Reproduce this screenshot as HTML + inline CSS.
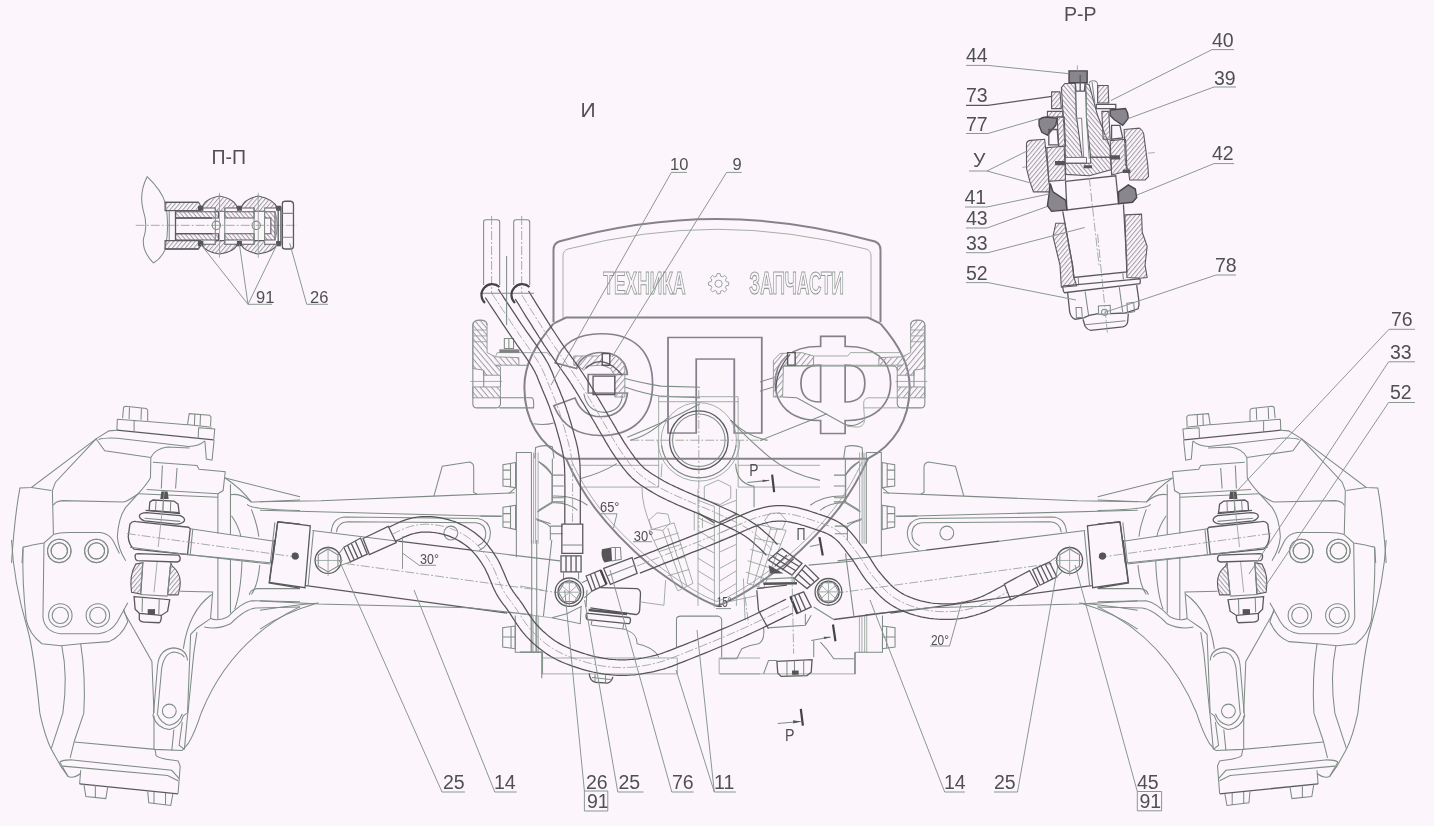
<!DOCTYPE html>
<html lang="ru"><head><meta charset="utf-8"><title>Схема</title>
<style>
html,body{margin:0;padding:0;background:#fcf6fc;}
body{width:1434px;height:826px;overflow:hidden;}
svg{display:block;will-change:transform;}
svg text{font-family:"Liberation Sans",sans-serif;fill:#505050;}
path,circle,ellipse,line,rect,polyline,text{vector-effect:non-scaling-stroke;}
.l{fill:none;stroke:#7e8c84;stroke-width:1.05;}
.t{fill:none;stroke:#94a098;stroke-width:0.85;}
.d{fill:none;stroke:#5a5a5e;stroke-width:1.3;}
.h{fill:none;stroke:#555;stroke-width:1.25;}
.w{fill:none;stroke:#86828c;stroke-width:2;}
.c{fill:none;stroke:#94a098;stroke-width:0.85;stroke-dasharray:9 2 2 2;}
.k{fill:#555;stroke:none;}
.g{fill:#8a868e;stroke:#4a464e;stroke-width:1.4;}
.ld{fill:none;stroke:#84928a;stroke-width:0.95;}
.hf{stroke:#5e5a62;stroke-width:1.1;}
svg .wo1 text{fill:none;stroke:#8f9a92;stroke-width:0.9;}
svg text.wa{fill:none;stroke:#85808c;stroke-linejoin:miter;}
svg text.wb{fill:#fcf6fc;stroke:#fcf6fc;stroke-linejoin:miter;}
.hl{stroke:#8a968e;stroke-width:0.9;}

</style></head><body>
<svg width="1434" height="826" viewBox="0 0 1434 826" font-size="19.5">
<defs>
<pattern id="hz5975" width="4.3" height="4.3" patternUnits="userSpaceOnUse" patternTransform="scale(5.975) rotate(-50)"><line x1="0" y1="0.5" x2="4.3" y2="0.5" stroke="#a09ca6" stroke-width="1.05"/></pattern>
<pattern id="hx4773" width="3.3" height="3.3" patternUnits="userSpaceOnUse" patternTransform="scale(4.773) rotate(-50)"><line x1="0" y1="0.5" x2="3.3" y2="0.5" stroke="#a09ca6" stroke-width="1.05"/></pattern>
<pattern id="hy4773" width="3.3" height="3.3" patternUnits="userSpaceOnUse" patternTransform="scale(4.773) rotate(50)"><line x1="0" y1="0.5" x2="3.3" y2="0.5" stroke="#a09ca6" stroke-width="1.05"/></pattern>
<pattern id="hy7170" width="3.3" height="3.3" patternUnits="userSpaceOnUse" patternTransform="scale(7.17) rotate(50)"><line x1="0" y1="0.5" x2="3.3" y2="0.5" stroke="#a09ca6" stroke-width="1.05"/></pattern>
<pattern id="hx7170" width="3.3" height="3.3" patternUnits="userSpaceOnUse" patternTransform="scale(7.17) rotate(-50)"><line x1="0" y1="0.5" x2="3.3" y2="0.5" stroke="#a09ca6" stroke-width="1.05"/></pattern>
</defs>
<rect width="1434" height="826" fill="#fcf6fc"/>
<g transform="translate(0,0) scale(1.00000)">
<path class="w" d="M553.5,322 V250 Q553.5,243.5 559,241.5 Q640,219 717,219 Q794,219 875,241.5 Q880.5,243.5 880.5,250 V322"/>
<path d="M563,318 V256 Q563,250.5 568,249 Q645,229.3 717,229.3 Q789,229.3 866,249 Q871,250.5 871,256 V318" fill="none" stroke="#8f9a92" stroke-width="0.8"/>
<path class="w" d="M553.5,323.6 L566,317.5 H868 L880.5,323.6"/>
<path class="w" d="M553.5,323.6 C535,345 524,365 524.4,388 C524.4,420 540,445 566,458.7 H868 C894,445 909.6,420 909.6,388 C910,365 899,345 880.5,323.6"/>
<path class="w" d="M566,458.7 C580,490 600,522 649.5,564.8 C680,588 700,600 717,606 C734,600 754,588 784.5,564.8 C834,522 854,490 868,458.7"/>
<path d="M572,462 C586,492 605,522 652,561 C682,584 702,596 717,601.5 C732,596 752,584 782,561 C829,522 848,492 862,462" fill="none" stroke="#8f9a92" stroke-width="0.8"/>
<g fill="none" stroke="#8f9a92" stroke-width="0.9"><circle cx="718.6" cy="283.7" r="3.6"/><path d="M717.1,273.6 h3 l0.6,2.6 l1.7,0.7 l2.3,-1.4 l2.1,2.1 l-1.4,2.3 l0.7,1.7 l2.6,0.6 v3 l-2.6,0.6 l-0.7,1.7 l1.4,2.3 l-2.1,2.1 l-2.3,-1.4 l-1.7,0.7 l-0.6,2.6 h-3 l-0.6,-2.6 l-1.7,-0.7 l-2.3,1.4 l-2.1,-2.1 l1.4,-2.3 l-0.7,-1.7 l-2.6,-0.6 v-3 l2.6,-0.6 l0.7,-1.7 l-1.4,-2.3 l2.1,-2.1 l2.3,1.4 l1.7,-0.7 z"/></g>
<g font-size="132" font-weight="bold" class="wo1">
<text transform="translate(603.3,294) scale(0.132,0.2418)">ТЕХНИКА</text>
<text transform="translate(749.3,294) scale(0.131,0.2418)">ЗАПЧАСТИ</text>
</g>
<g font-size="132" font-weight="bold">
<text class="wa" style="stroke-width:4.7" transform="translate(552.0,433.0) scale(1.119,1.048)">Э</text>
<text class="wa" style="stroke-width:8.1" transform="translate(661.5,430.0) scale(1.126,0.989)">П</text>
<text class="wa" style="stroke-width:6.9" transform="translate(773.1,429.9) scale(1.063,0.996)">Ф</text>
<text class="wb" style="stroke-width:1.3" transform="translate(552.0,433.0) scale(1.119,1.048)">Э</text>
<text class="wb" style="stroke-width:4.7" transform="translate(661.5,430.0) scale(1.126,0.989)">П</text>
<text class="wb" style="stroke-width:3.5" transform="translate(773.1,429.9) scale(1.063,0.996)">Ф</text>
</g>
</g>
<g transform="translate(630,470) scale(0.12594)">
<path class="t" d="M700,80 L800,130 L800,225 L715,275 L590,235 L590,130 Z"/>
<path class="t" d="M540,150 V1080 M670,290 V1090 M710,290 V1090 M845,150 V1080 M510,330 V480 M575,380 V460"/>
<path class="t" d="M540,240 L670,290 M540,380 L670,440 M540,480 L670,560 M540,590 L670,660 M540,700 L670,780 M540,800 L670,880 M540,900 L670,980"/>
<path class="t" d="M845,240 L715,290 M845,440 L715,500 M845,510 L715,560 M845,590 L715,650 M845,710 L715,780 M845,800 L715,880 M845,900 L715,980"/>
<path d="M540,340 L670,420 M845,350 L715,415" fill="none" stroke="#666" stroke-width="1.5" vector-effect="non-scaling-stroke"/>
<path class="t" d="M150,400 L215,340 L300,350 L320,420 L260,480 L170,470 Z"/>
<path class="t" d="M150,480 L350,420 L500,900 L380,960 Z M260,480 L420,930 M300,460 L450,915"/>
<path class="t" d="M190,560 L385,500 M225,650 L410,590 M260,740 L440,690 M300,840 L470,790"/>
<path class="t" d="M1070,400 L1110,345 L1190,340 L1240,400 L1210,470 L1120,470 Z"/>
<path class="t" d="M1010,430 L1240,480 L1060,940 L930,900 Z M1120,455 L980,915 M1170,465 L1020,930"/>
<path class="t" d="M985,540 L1200,590 M955,630 L1160,690 M935,720 L1120,780 M920,810 L1090,870"/>
</g>
<g transform="translate(0,390) scale(0.20951)">
<path class="l" d="M585,135 L590,82 L600,78 L698,88 L705,96 L705,148"/>
<path class="l" d="M618,82 L616,138 M675,87 L673,142"/>
<path class="l" d="M560,140 L705,150 M560,140 L558,192 M640,147 L640,197"/>
<path class="l" d="M705,150 L892,166"/>
<path class="d" d="M558,192 L1020,238"/>
<path class="l" d="M895,165 L903,113 L1000,120 L1007,128 L1005,172"/>
<path class="l" d="M930,115 L928,167 M957,117 L955,170"/>
<path class="l" d="M890,165 L1010,178 M948,180 L1025,186 L1020,240 M948,180 L946,232"/>
<path class="l" d="M558,192 L520,195 L460,232 L150,465 L95,468 Q70,600 55,826"/>
<path class="l" d="M460,235 L500,290 L720,322"/>
<path class="l" d="M460,232 L265,440 L250,480 L255,690"/>
<path class="l" d="M150,465 L245,480"/>
<path class="l" d="M470,236 Q500,226 560,230 L900,270 Q950,268 978,243"/>
<path class="l" d="M720,322 Q740,280 800,272 L905,277"/>
<path class="l" d="M978,245 L985,330 L1012,335 L1022,240"/>
<path class="l" d="M720,322 L718,420 Q700,450 660,495 L600,560 Q565,610 560,700 Q565,760 600,815"/>
<path class="l" d="M730,345 L940,360 L950,378 L1075,390 L1065,480 L1040,495"/>
<path class="l" d="M775,360 L770,470 M845,372 L838,470"/>
<path class="l" d="M700,475 L1040,495"/>
<path class="l" d="M660,495 L1040,512"/>
<path class="l" d="M255,550 Q265,530 300,528 L590,535 Q610,530 660,495"/>
<path class="l" d="M255,690 Q280,680 330,680 L480,680 Q520,685 540,720 L570,780"/>
<path class="l" d="M255,690 L210,730 Q150,740 110,750 L105,826"/>
<circle class="l" cx="283" cy="768" r="56"/>
<circle class="l" cx="283" cy="768" r="39"/>
<circle class="l" cx="460" cy="768" r="56"/>
<circle class="l" cx="460" cy="768" r="39"/>
<path class="k" d="M770,485 L800,485 L805,520 L765,520 Z"/>
<path class="d" d="M715,535 L730,525 L830,530 L850,545 L855,585 L712,575 Z"/>
<path class="l" d="M745,527 L742,577 M780,528 L778,580 M815,530 L813,583"/>
<path class="d" d="M695,575 L860,590"/>
<path class="d" d="M665,600 Q670,585 700,585 L860,600 Q885,610 880,625 Q870,640 840,640 L690,625 Q665,615 665,600"/>
<path class="l" d="M690,612 L860,627"/>
<path class="d" d="M620,640 Q630,625 650,628 L900,655 L908,662 L895,785 L640,760 Q615,740 612,700 Z"/>
<path class="l" d="M920,665 L908,785"/>
<path class="l" d="M908,662 L1310,722 M895,785 L1300,826"/>
<path class="c" d="M605,685 L1432,800"/>
<path class="t" d="M785,480 L755,750"/>
<path class="d" d="M1325,630 L1432,640 M1325,630 L1300,826"/>
<path class="l" d="M1312,632 L1290,826"/>
<circle class="k" cx="1410" cy="793" r="16"/>
<path class="l" d="M1075,420 L1432,510"/>
<path class="l" d="M1100,450 L1100,690 M1040,495 L1040,685"/>
<path class="l" d="M1100,500 Q1150,490 1200,535 L1432,525"/>
<path class="l" d="M1075,420 Q1150,470 1200,535"/>
<path class="l" d="M1180,545 Q1190,570 1432,575"/>
<path class="l" d="M1105,600 Q1140,650 1150,700 M1200,570 Q1230,650 1235,700"/>
</g>
<g transform="translate(0,540) scale(0.20951)">
<path class="l" d="M55,0 Q65,200 130,420 Q160,520 190,826"/>
<path class="l" d="M110,40 Q105,200 125,380 Q140,450 200,495 L290,505 L385,495 L520,485 Q580,460 610,390 L590,330"/>
<path class="l" d="M210,14 L205,370 Q215,440 290,447 L470,447 Q530,440 560,390 L610,300"/>
<path class="l" d="M295,505 Q325,650 300,826 M385,495 Q410,650 400,826"/>
<circle class="l" cx="283" cy="52" r="56"/>
<circle class="l" cx="283" cy="52" r="39"/>
<circle class="l" cx="460" cy="52" r="56"/>
<circle class="l" cx="460" cy="52" r="39"/>
<circle class="l" cx="288" cy="360" r="56"/>
<circle class="l" cx="288" cy="360" r="39"/>
<circle class="l" cx="467" cy="360" r="56"/>
<circle class="l" cx="467" cy="360" r="39"/>
<path class="d" d="M645,75 Q645,65 660,65 L850,72 Q860,75 860,90 Q860,105 845,105 L655,98 Q645,95 645,75"/>
<path class="l" d="M620,35 L900,70 L1290,115"/>
<path class="hf" fill="url(#hx4773)" d="M648,115 Q615,170 628,250 L672,258 L682,108 Z"/>
<path class="hf" fill="url(#hx4773)" d="M822,125 Q880,170 850,262 L800,262 L815,108 Z"/>
<path class="l" d="M682,105 L670,258 M815,108 L800,262"/>
<path class="t" d="M750,105 L735,250"/>
<path class="d" d="M640,270 L810,285 L800,340 L770,360 L665,350 L645,330 Z"/>
<path class="l" d="M670,260 L800,268"/>
<path class="l" d="M680,275 L678,345 M760,280 L758,355"/>
<path class="d" d="M665,350 L665,380 Q670,392 690,392 L760,395 Q770,390 770,360"/>
<path class="k" d="M705,330 L740,330 L740,355 L705,355 Z"/>
<path class="l" d="M590,340 L725,580 L735,826"/>
<path class="l" d="M860,245 L1015,248 L1005,375 L940,420 L910,450 L895,826"/>
<path class="l" d="M940,440 L925,540 L897,826"/>
<path class="l" d="M1010,260 Q900,340 875,520"/>
<path class="l" d="M733,826 L752,600 Q760,520 830,515 Q890,520 895,575"/>
<path class="l" d="M752,826 L772,610 Q785,540 830,535 Q870,540 880,560"/>
<path class="l" d="M1040,80 L1040,380 M1100,90 L1100,350"/>
<path class="l" d="M1155,100 Q1150,250 1120,330 M1240,120 Q1230,220 1200,260"/>
<path class="l" d="M1005,375 Q1040,390 1090,365 Q1150,300 1200,290 L1432,295"/>
<path class="l" d="M975,415 Q1040,430 1100,400 Q1170,330 1220,325 L1432,320"/>
<path class="l" d="M1432,318 Q1100,480 960,826"/>
<path class="l" d="M1190,262 Q1195,235 1230,232 L1432,232"/>
<path class="d" d="M1310,0 L1285,205 L1432,230"/>
</g>
<g transform="translate(0,653) scale(0.20951)">
<path class="l" d="M190,287 Q215,400 245,460 L290,540 L325,590 Q350,600 385,575"/>
<path class="l" d="M300,287 L245,455"/>
<path class="l" d="M400,287 L355,420 L335,500"/>
<path class="l" d="M355,425 L740,460 L870,465"/>
<path class="l" d="M740,460 L745,490 Q760,505 850,515 L860,540 L850,670"/>
<path class="l" d="M285,520 Q300,510 335,510 L820,560 L855,600 M285,520 L325,590"/>
<path class="l" d="M300,540 L800,585 L850,610"/>
<path class="l" d="M385,560 L380,625"/>
<path class="d" d="M380,625 L850,672"/>
<path class="l" d="M400,625 L410,685 L505,695 L515,635 M455,630 L455,690"/>
<path class="l" d="M705,660 L710,715 L815,728 L825,672 M735,662 L735,718 M790,668 L790,725"/>
<path class="l" d="M733,287 L730,300 Q750,360 810,365 Q860,355 875,300 L893,287"/>
<path class="l" d="M752,287 L750,290 Q770,340 810,345 Q855,335 870,290"/>
<circle class="l" cx="808" cy="277" r="33"/>
<path class="l" d="M735,300 L735,460 M830,365 L820,465 M870,330 L855,440 L880,460"/>
<path class="l" d="M897,287 L895,300 L880,460"/>
<path class="l" d="M960,287 Q930,380 900,430 L870,465"/>
</g>
<g transform="translate(1397.7,0) scale(-1,1)">
<g transform="translate(0,390) scale(0.20951)">
<path class="l" d="M585,135 L590,82 L600,78 L698,88 L705,96 L705,148"/>
<path class="l" d="M618,82 L616,138 M675,87 L673,142"/>
<path class="l" d="M560,140 L705,150 M560,140 L558,192 M640,147 L640,197"/>
<path class="l" d="M705,150 L892,166"/>
<path class="d" d="M558,192 L1020,238"/>
<path class="l" d="M895,165 L903,113 L1000,120 L1007,128 L1005,172"/>
<path class="l" d="M930,115 L928,167 M957,117 L955,170"/>
<path class="l" d="M890,165 L1010,178 M948,180 L1025,186 L1020,240 M948,180 L946,232"/>
<path class="l" d="M558,192 L520,195 L460,232 L150,465 L95,468 Q70,600 55,826"/>
<path class="l" d="M460,235 L500,290 L720,322"/>
<path class="l" d="M460,232 L265,440 L250,480 L255,690"/>
<path class="l" d="M150,465 L245,480"/>
<path class="l" d="M470,236 Q500,226 560,230 L900,270 Q950,268 978,243"/>
<path class="l" d="M720,322 Q740,280 800,272 L905,277"/>
<path class="l" d="M978,245 L985,330 L1012,335 L1022,240"/>
<path class="l" d="M720,322 L718,420 Q700,450 660,495 L600,560 Q565,610 560,700 Q565,760 600,815"/>
<path class="l" d="M730,345 L940,360 L950,378 L1075,390 L1065,480 L1040,495"/>
<path class="l" d="M775,360 L770,470 M845,372 L838,470"/>
<path class="l" d="M700,475 L1040,495"/>
<path class="l" d="M660,495 L1040,512"/>
<path class="l" d="M255,550 Q265,530 300,528 L590,535 Q610,530 660,495"/>
<path class="l" d="M255,690 Q280,680 330,680 L480,680 Q520,685 540,720 L570,780"/>
<path class="l" d="M255,690 L210,730 Q150,740 110,750 L105,826"/>
<circle class="l" cx="283" cy="768" r="56"/>
<circle class="l" cx="283" cy="768" r="39"/>
<circle class="l" cx="460" cy="768" r="56"/>
<circle class="l" cx="460" cy="768" r="39"/>
<path class="k" d="M770,485 L800,485 L805,520 L765,520 Z"/>
<path class="d" d="M715,535 L730,525 L830,530 L850,545 L855,585 L712,575 Z"/>
<path class="l" d="M745,527 L742,577 M780,528 L778,580 M815,530 L813,583"/>
<path class="d" d="M695,575 L860,590"/>
<path class="d" d="M665,600 Q670,585 700,585 L860,600 Q885,610 880,625 Q870,640 840,640 L690,625 Q665,615 665,600"/>
<path class="l" d="M690,612 L860,627"/>
<path class="d" d="M620,640 Q630,625 650,628 L900,655 L908,662 L895,785 L640,760 Q615,740 612,700 Z"/>
<path class="l" d="M920,665 L908,785"/>
<path class="l" d="M908,662 L1310,722 M895,785 L1300,826"/>
<path class="c" d="M605,685 L1432,800"/>
<path class="t" d="M785,480 L755,750"/>
<path class="d" d="M1325,630 L1432,640 M1325,630 L1300,826"/>
<path class="l" d="M1312,632 L1290,826"/>
<circle class="k" cx="1410" cy="793" r="16"/>
<path class="l" d="M1075,420 L1432,510"/>
<path class="l" d="M1100,450 L1100,690 M1040,495 L1040,685"/>
<path class="l" d="M1100,500 Q1150,490 1200,535 L1432,525"/>
<path class="l" d="M1075,420 Q1150,470 1200,535"/>
<path class="l" d="M1180,545 Q1190,570 1432,575"/>
<path class="l" d="M1105,600 Q1140,650 1150,700 M1200,570 Q1230,650 1235,700"/>
</g>
<g transform="translate(0,540) scale(0.20951)">
<path class="l" d="M55,0 Q65,200 130,420 Q160,520 190,826"/>
<path class="l" d="M110,40 Q105,200 125,380 Q140,450 200,495 L290,505 L385,495 L520,485 Q580,460 610,390 L590,330"/>
<path class="l" d="M210,14 L205,370 Q215,440 290,447 L470,447 Q530,440 560,390 L610,300"/>
<path class="l" d="M295,505 Q325,650 300,826 M385,495 Q410,650 400,826"/>
<circle class="l" cx="283" cy="52" r="56"/>
<circle class="l" cx="283" cy="52" r="39"/>
<circle class="l" cx="460" cy="52" r="56"/>
<circle class="l" cx="460" cy="52" r="39"/>
<circle class="l" cx="288" cy="360" r="56"/>
<circle class="l" cx="288" cy="360" r="39"/>
<circle class="l" cx="467" cy="360" r="56"/>
<circle class="l" cx="467" cy="360" r="39"/>
<path class="d" d="M645,75 Q645,65 660,65 L850,72 Q860,75 860,90 Q860,105 845,105 L655,98 Q645,95 645,75"/>
<path class="l" d="M620,35 L900,70 L1290,115"/>
<path class="hf" fill="url(#hx4773)" d="M648,115 Q615,170 628,250 L672,258 L682,108 Z"/>
<path class="hf" fill="url(#hx4773)" d="M822,125 Q880,170 850,262 L800,262 L815,108 Z"/>
<path class="l" d="M682,105 L670,258 M815,108 L800,262"/>
<path class="t" d="M750,105 L735,250"/>
<path class="d" d="M640,270 L810,285 L800,340 L770,360 L665,350 L645,330 Z"/>
<path class="l" d="M670,260 L800,268"/>
<path class="l" d="M680,275 L678,345 M760,280 L758,355"/>
<path class="d" d="M665,350 L665,380 Q670,392 690,392 L760,395 Q770,390 770,360"/>
<path class="k" d="M705,330 L740,330 L740,355 L705,355 Z"/>
<path class="l" d="M590,340 L725,580 L735,826"/>
<path class="l" d="M860,245 L1015,248 L1005,375 L940,420 L910,450 L895,826"/>
<path class="l" d="M940,440 L925,540 L897,826"/>
<path class="l" d="M1010,260 Q900,340 875,520"/>
<path class="l" d="M733,826 L752,600 Q760,520 830,515 Q890,520 895,575"/>
<path class="l" d="M752,826 L772,610 Q785,540 830,535 Q870,540 880,560"/>
<path class="l" d="M1040,80 L1040,380 M1100,90 L1100,350"/>
<path class="l" d="M1155,100 Q1150,250 1120,330 M1240,120 Q1230,220 1200,260"/>
<path class="l" d="M1005,375 Q1040,390 1090,365 Q1150,300 1200,290 L1432,295"/>
<path class="l" d="M975,415 Q1040,430 1100,400 Q1170,330 1220,325 L1432,320"/>
<path class="l" d="M1432,318 Q1100,480 960,826"/>
<path class="l" d="M1190,262 Q1195,235 1230,232 L1432,232"/>
<path class="d" d="M1310,0 L1285,205 L1432,230"/>
</g>
<g transform="translate(0,653) scale(0.20951)">
<path class="l" d="M190,287 Q215,400 245,460 L290,540 L325,590 Q350,600 385,575"/>
<path class="l" d="M300,287 L245,455"/>
<path class="l" d="M400,287 L355,420 L335,500"/>
<path class="l" d="M355,425 L740,460 L870,465"/>
<path class="l" d="M740,460 L745,490 Q760,505 850,515 L860,540 L850,670"/>
<path class="l" d="M285,520 Q300,510 335,510 L820,560 L855,600 M285,520 L325,590"/>
<path class="l" d="M300,540 L800,585 L850,610"/>
<path class="l" d="M385,560 L380,625"/>
<path class="d" d="M380,625 L850,672"/>
<path class="l" d="M400,625 L410,685 L505,695 L515,635 M455,630 L455,690"/>
<path class="l" d="M705,660 L710,715 L815,728 L825,672 M735,662 L735,718 M790,668 L790,725"/>
<path class="l" d="M733,287 L730,300 Q750,360 810,365 Q860,355 875,300 L893,287"/>
<path class="l" d="M752,287 L750,290 Q770,340 810,345 Q855,335 870,290"/>
<circle class="l" cx="808" cy="277" r="33"/>
<path class="l" d="M735,300 L735,460 M830,365 L820,465 M870,330 L855,440 L880,460"/>
<path class="l" d="M897,287 L895,300 L880,460"/>
<path class="l" d="M960,287 Q930,380 900,430 L870,465"/>
</g>
</g>
<g transform="translate(260,440) scale(0.20951)">
<path class="l" d="M0,295 L290,290 L830,268 L1215,252"/>
<path class="l" d="M830,268 L870,125 L1000,105 Q1020,110 1020,130 L1020,250 L1035,258"/>
<path class="l" d="M0,335 L1150,365"/>
<path class="l" d="M340,440 Q345,370 410,368 L1040,375 Q1095,385 1100,440 Q1100,500 1045,528"/>
<path class="l" d="M365,440 Q370,392 420,390 L1030,395 Q1075,400 1078,445 Q1078,490 1040,505"/>
<circle class="l" cx="911" cy="444" r="33"/>
<path class="d" d="M85,390 L240,410 L215,705 L45,680 Z"/>
<path class="l" d="M255,435 L230,692"/>
<circle class="k" cx="167" cy="553" r="16"/>
<path class="l" d="M250,432 L660,483 M1010,526 L1432,577"/>
<path class="d" d="M660,483 L1010,526"/>
<path class="d" d="M220,695 L1180,826"/>
<path class="c" d="M410,590 L1432,730"/>
<circle class="d" cx="325" cy="575" r="62"/>
<path class="l" d="M325,520 L372,548 L372,602 L325,630 L278,602 L278,548 Z"/>
<path class="t" d="M325,505 L325,650 M260,575 L395,575"/>
</g>
<g transform="translate(260,560) scale(0.20951)">
<path class="l" d="M0,195 L280,210 L1000,228 L1300,262"/>
<path class="l" d="M0,240 Q150,215 280,205 M0,330 Q120,250 260,210"/>
</g>
<g transform="translate(1397.7,0) scale(-1,1)">
<g transform="translate(260,440) scale(0.20951)">
<path class="l" d="M0,295 L290,290 L830,268 L1215,252"/>
<path class="l" d="M830,268 L870,125 L1000,105 Q1020,110 1020,130 L1020,250 L1035,258"/>
<path class="l" d="M0,335 L1150,365"/>
<path class="l" d="M340,440 Q345,370 410,368 L1040,375 Q1095,385 1100,440 Q1100,500 1045,528"/>
<path class="l" d="M365,440 Q370,392 420,390 L1030,395 Q1075,400 1078,445 Q1078,490 1040,505"/>
<circle class="l" cx="911" cy="444" r="33"/>
<path class="d" d="M85,390 L240,410 L215,705 L45,680 Z"/>
<path class="l" d="M255,435 L230,692"/>
<circle class="k" cx="167" cy="553" r="16"/>
<path class="l" d="M250,432 L660,483 M1010,526 L1432,577"/>
<path class="d" d="M660,483 L1010,526"/>
<path class="d" d="M220,695 L1180,826"/>
<path class="c" d="M410,590 L1432,730"/>
<circle class="d" cx="325" cy="575" r="62"/>
<path class="l" d="M325,520 L372,548 L372,602 L325,630 L278,602 L278,548 Z"/>
<path class="t" d="M325,505 L325,650 M260,575 L395,575"/>
</g>
<g transform="translate(260,560) scale(0.20951)">
<path class="l" d="M0,195 L280,210 L1000,228 L1300,262"/>
<path class="l" d="M0,240 Q150,215 280,205 M0,330 Q120,250 260,210"/>
</g>
</g>
<g transform="translate(760,320) scale(0.16736)">
<path class="l" d="M900,30 Q900,0 942,0 Q985,0 985,30 L985,500 Q985,525 960,525 L850,525 Q822,525 820,500 L820,465"/>
<path class="hl" fill="url(#hz5975)" d="M900,30 Q900,2 942,2 Q985,2 985,30 L985,290 L920,300 L920,330 L820,330 L820,280 L850,270 L710,270 L710,225 L850,220 L900,195 Z"/>
<path class="hl" fill="url(#hz5975)" d="M820,400 L985,400 L985,465 L820,465 Z"/>
<path class="t" d="M900,60 H985 M900,95 H985 M900,130 H985"/>
<path class="l" d="M920,300 L920,400 M820,330 L820,400"/>
<path class="t" d="M810,367 L1000,367"/>
<path class="t" d="M525,215 L540,195 L840,195 L850,220"/>
</g>
<g transform="translate(760,440) scale(0.16736)">
<path class="t" d="M595,75 L595,620 M610,75 L610,620 M622,75 L622,620"/>
<path class="l" d="M635,75 L725,75 L725,700 M635,75 L635,620"/>
<path class="l" d="M730,135 L760,140 L805,148 L805,275 L760,280 L730,285 Z M760,140 V280 M760,180 H805 M760,235 H805"/>
<path class="l" d="M730,390 L760,395 L805,402 L805,520 L760,528 L730,535 Z M760,395 V528 M760,440 H805 M760,490 H805"/>
<path class="l" d="M730,285 L770,320 M810,455 L940,455"/>
<path class="l" d="M500,110 L510,40 Q560,25 610,45 L615,110"/>
<path class="l" d="M510,110 L510,370 M510,210 Q540,170 590,130"/>
<path class="l" d="M300,390 Q380,330 510,335 M360,420 Q420,370 510,375"/>
<path class="l" d="M510,375 L600,430 M520,500 L610,470"/>
</g>
<g transform="translate(740,580) scale(0.20951)">
<path class="l" d="M680,220 L740,228 L740,320 L680,328 Z M680,272 H740 M700,224 V324"/>
<path class="t" d="M570,170 V345 M582,170 V345 M595,170 V345 M605,170 V345"/>
<path class="l" d="M550,345 L680,345 L680,170 M550,345 L550,450"/>
</g>
<g transform="translate(1397.7,0) scale(-1,1)">
<g transform="translate(760,320) scale(0.16736)">
<path class="l" d="M900,30 Q900,0 942,0 Q985,0 985,30 L985,500 Q985,525 960,525 L850,525 Q822,525 820,500 L820,465"/>
<path class="hl" fill="url(#hz5975)" d="M900,30 Q900,2 942,2 Q985,2 985,30 L985,290 L920,300 L920,330 L820,330 L820,280 L850,270 L710,270 L710,225 L850,220 L900,195 Z"/>
<path class="hl" fill="url(#hz5975)" d="M820,400 L985,400 L985,465 L820,465 Z"/>
<path class="t" d="M900,60 H985 M900,95 H985 M900,130 H985"/>
<path class="l" d="M920,300 L920,400 M820,330 L820,400"/>
<path class="t" d="M810,367 L1000,367"/>
<path class="t" d="M525,215 L540,195 L840,195 L850,220"/>
</g>
<g transform="translate(760,440) scale(0.16736)">
<path class="t" d="M595,75 L595,620 M610,75 L610,620 M622,75 L622,620"/>
<path class="l" d="M635,75 L725,75 L725,700 M635,75 L635,620"/>
<path class="l" d="M730,135 L760,140 L805,148 L805,275 L760,280 L730,285 Z M760,140 V280 M760,180 H805 M760,235 H805"/>
<path class="l" d="M730,390 L760,395 L805,402 L805,520 L760,528 L730,535 Z M760,395 V528 M760,440 H805 M760,490 H805"/>
<path class="l" d="M730,285 L770,320 M810,455 L940,455"/>
<path class="l" d="M500,110 L510,40 Q560,25 610,45 L615,110"/>
<path class="l" d="M510,110 L510,370 M510,210 Q540,170 590,130"/>
<path class="l" d="M300,390 Q380,330 510,335 M360,420 Q420,370 510,375"/>
<path class="l" d="M510,375 L600,430 M520,500 L610,470"/>
</g>
<g transform="translate(740,580) scale(0.20951)">
<path class="l" d="M680,220 L740,228 L740,320 L680,328 Z M680,272 H740 M700,224 V324"/>
<path class="t" d="M570,170 V345 M582,170 V345 M595,170 V345 M605,170 V345"/>
<path class="l" d="M550,345 L680,345 L680,170 M550,345 L550,450"/>
</g>
</g>
<g transform="translate(470,450) scale(0.16736)">
<path class="l" d="M490,150 H560 M490,215 H560 M490,285 H560 M490,150 V310 H560"/>
<path class="l" d="M480,455 H555 M480,455 V540 M480,500 H555"/>
<path class="l" d="M410,70 Q470,100 490,150 M410,360 L490,310 M400,420 Q450,430 480,460"/>
</g>
<g transform="translate(1397.7,0) scale(-1,1)">
<g transform="translate(470,450) scale(0.16736)">
<path class="l" d="M490,150 H560 M490,215 H560 M490,285 H560 M490,150 V310 H560"/>
<path class="l" d="M480,455 H555 M480,455 V540 M480,500 H555"/>
<path class="l" d="M410,70 Q470,100 490,150 M410,360 L490,310 M400,420 Q450,430 480,460"/>
</g>
</g>
<g transform="translate(460,320) scale(0.16736)">
<path class="hl" fill="url(#hz5975)" d="M680,215 L830,215 L850,200 L895,200 L940,215 L985,260 L985,460 L925,460 L925,335 L900,290 L850,270 L760,275 L740,300 L700,270 L680,270 Z"/>
<path d="M850,200 L895,200 L895,270 L850,270 Z" fill="#fcf6fc" stroke="#555" stroke-width="1.4" vector-effect="non-scaling-stroke"/>
<path class="d" d="M750,290 Q850,190 970,330"/>
<path class="d" d="M795,335 L925,335 L925,445 L795,445 Z"/>
<path class="l" d="M740,440 Q760,550 865,552 Q960,545 970,455"/>
<path class="l" d="M985,350 Q1100,380 1200,395 L1434,402 M985,400 Q1100,440 1200,455 L1434,465"/>
<path class="l" d="M410,270 L350,270 M440,620 Q510,630 560,615"/>
<path class="l" d="M1000,700 Q1250,600 1434,500"/>
<path class="l" d="M265,110 L320,110 L320,170 L265,170 Z M292,110 V170"/>
<path class="d" d="M235,180 L355,180 M235,190 L355,190"/>
<path class="l" d="M235,465 L430,465 Q440,470 440,500 L440,525 L235,525"/>
</g>
<g transform="translate(760,320) scale(0.16736)">
<path class="hl" fill="url(#hz5975)" d="M80,240 L120,200 L250,195 L320,215 L320,270 L140,275 L135,460 L80,460 Z"/>
<path d="M165,195 L210,195 L210,270 L165,270 Z" fill="#fcf6fc" stroke="#555" stroke-width="1.4" vector-effect="non-scaling-stroke"/>
<path class="d" d="M95,420 Q95,300 180,205"/>
<path class="l" d="M135,275 L800,275 Q820,280 820,300 M135,460 L220,465 L500,620 Q560,650 620,600"/>
<path class="t" d="M320,215 L525,215 M320,270 L710,270"/>
<path class="t" d="M620,525 L620,490 Q625,465 650,465 L820,465 M620,525 L830,525 M620,525 L625,600 Q620,640 580,640 L520,635"/>
<path class="l" d="M0,370 L80,345 M0,425 L80,400"/>
<path class="l" d="M0,720 L400,560"/>
</g>
<g transform="translate(580,390) scale(0.16736)">
<circle class="d" cx="710" cy="300" r="175"/>
<circle class="l" cx="710" cy="300" r="157"/>
<circle class="t" cx="710" cy="300" r="225"/>
<path class="l" d="M487,330 A225,225 0 0 0 933,330" stroke-width="1.6"/>
<path class="t" d="M465,300 A245,245 0 0 0 955,300"/>
<path class="c" d="M710,0 L710,826 M300,300 L1120,300"/>
<path class="t" d="M470,40 L945,40 M470,70 L945,70 M470,40 L470,580 M945,40 L945,580"/>
<path class="t" d="M0,450 L470,450 M945,450 L1434,450 M0,580 L470,580 M945,580 L1434,580"/>
<path class="t" d="M370,580 Q370,700 430,826 M490,440 L485,520"/>
<path class="l" d="M930,440 Q935,560 1040,575 L1040,700"/>
<path class="l" d="M300,300 Q400,280 520,170 M1120,300 Q1000,280 900,180"/>
<path class="l" d="M0,530 Q120,500 220,440 M1434,540 Q1250,500 1130,400 Q1000,290 900,180"/>
<text x="1012" y="515" font-size="100" textLength="55" lengthAdjust="spacingAndGlyphs">Р</text>
<path class="l" d="M1000,553 L1130,540"/>
<path class="k" d="M1090,537 L1135,540 L1092,550 Z"/>
<path d="M1148,505 L1160,610" stroke="#444" stroke-width="2.2" fill="none"/>
</g>
<g transform="translate(520,540) scale(0.16736)">
<path class="d" d="M250,-95 L375,-95 L375,80 L250,80 Z"/>
<path class="d" d="M245,95 L365,95 L365,190 L245,190 Z"/>
<path class="d" d="M275,95 V190 M305,95 V190 M335,95 V190"/>
<path class="l" d="M260,190 L260,235 M350,190 L350,235"/>
<circle class="d" cx="295" cy="312" r="85"/>
<circle class="d" cx="295" cy="312" r="68"/>
<path class="l" d="M360,312 L327,368 L263,368 L230,312 L263,256 L327,256 Z"/>
<path class="t" d="M295,230 V395 M215,312 H375 M240,265 L350,360 M350,265 L240,360"/>
<path class="l" d="M370,255 L400,240 M385,345 L430,305"/>
<path class="d" d="M395,215 L480,180 L515,265 L430,305 Z"/>
<path class="d" d="M420,205 L452,295 M445,195 L478,283"/>
<path d="M482,180 L517,265" stroke="#444" stroke-width="2.4" fill="none"/>
<path class="d" d="M500,170 L670,105 L700,200 L540,265 Z"/>
<path class="l" d="M520,215 L690,150"/>
<path class="k" d="M490,55 L545,45 L550,125 L505,135 Q480,100 490,55 Z"/>
<path class="l" d="M545,45 L600,45 L605,115 L550,125 M570,45 V118"/>
<path class="d" d="M480,285 L700,290 Q720,295 720,320 L715,420 Q710,445 690,445 L420,405"/>
<path class="l" d="M400,300 L395,400"/>
<path d="M410,418 L640,442" stroke="#555" stroke-width="2.5" fill="none"/>
<path class="d" d="M395,448 Q395,436 410,438 L650,463 Q662,466 660,482 Q658,502 645,500 L405,476 Q393,472 395,448"/>
<path class="l" d="M430,480 L425,510 M620,500 L615,530 M430,510 L640,535"/>
<path class="l" d="M190,465 L280,440 L370,395 M190,465 L360,500 L365,400"/>
<path class="l" d="M935,470 Q940,455 960,455 L1185,455 Q1205,460 1205,480 L1205,700 M935,470 L935,640"/>
<path class="t" d="M135,705 L940,705 M135,705 L135,800 L940,800 M940,705 V800"/>
<path class="l" d="M640,540 Q700,560 700,620 Q800,640 830,700"/>
<path class="t" d="M1190,705 H1434 M1190,705 V800 H1434"/>
<path class="t" d="M870,240 L860,390 L720,370"/>
<path class="t" d="M0,275 L140,300 M0,440 L190,465"/>
<path class="l" d="M140,455 L190,0 M70,0 V670 M100,0 V670 M0,670 H130 V826"/>
<path class="l" d="M250,30 H375"/>
</g>
<g transform="translate(720,540) scale(0.16736)">
<circle class="d" cx="648" cy="310" r="80"/>
<circle class="d" cx="648" cy="310" r="64"/>
<path class="l" d="M710,310 L679,364 L617,364 L586,310 L617,256 L679,256 Z"/>
<path class="t" d="M648,230 V390 M568,310 H728 M595,262 L700,358 M700,262 L595,358"/>
<path class="d" d="M445,230 L510,150 L590,230 L520,290 Z"/>
<path class="d" d="M468,205 L540,270 M490,178 L563,248"/>
<path class="d" d="M290,120 L370,50 L490,140 L430,210 Z"/>
<path class="d" d="M315,100 L455,185 M340,78 L475,160 M330,155 L400,90 M370,180 L440,112"/>
<path class="k" d="M290,150 L380,200 L300,200 Z"/>
<path class="d" d="M420,340 L500,310 L545,400 L460,440 Z"/>
<path class="d" d="M445,330 L485,428 M470,322 L512,415"/>
<path d="M422,340 L462,440" stroke="#444" stroke-width="2.4" fill="none"/>
<path class="d" d="M230,420 Q255,470 290,530"/>
<path class="d" d="M220,290 L400,270 M220,300 L230,420"/>
<path d="M260,262 L460,258" stroke="#555" stroke-width="2.5" fill="none"/>
<path class="l" d="M255,235 L440,225 L445,255 M255,235 L260,262"/>
<path class="l" d="M285,525 L510,510 L545,450 M510,440 L510,510"/>
<path class="l" d="M560,400 L680,475"/>
<path class="d" d="M680,475 L1100,420"/>
<path class="l" d="M750,80 L800,455 M530,150 L800,125"/>
<path class="l" d="M560,600 L560,700 M600,610 Q640,650 680,710 L800,710 M805,670 V800"/>
<path class="l" d="M0,710 L100,710 L130,650 Q180,625 230,620 M260,525 Q270,600 230,620"/>
<path class="t" d="M0,800 H805"/>
<path class="d" d="M340,725 L550,715 L545,790 L520,810 L365,815 L345,795 Z"/>
<path class="l" d="M400,722 V812 M445,720 V812 M500,718 V810"/>
<path class="k" d="M430,780 L470,780 L470,805 L430,805 Z"/>
<path class="l" d="M290,720 L340,720 M290,720 L260,800"/>
<path d="M675,505 L690,605" stroke="#444" stroke-width="2.2" fill="none"/>
<path class="l" d="M545,600 L660,580"/>
<path class="k" d="M620,578 L665,580 L622,592 Z"/>
<path class="c" d="M430,200 L440,680 M150,340 L170,500"/>
<path class="t" d="M0,380 L230,330 M140,230 L150,480"/>
</g>
<g transform="translate(440,580) scale(0.20951)">
<path class="d" d="M712,445 Q715,480 740,488 L800,492 Q820,485 825,462"/>
<path class="l" d="M725,465 L815,475 M740,450 V488 M790,455 V492"/>
</g>
<g transform="translate(260,440) scale(0.20951)">
<path class="d" d="M400,512 L480,468 L512,545 L432,582 Z"/>
<path class="d" d="M418,503 L450,573 M436,494 L468,565 M455,483 L487,556"/>
<path class="d" d="M492,470 L612,412 L650,490 L522,547 Z"/>
<path class="l" d="M372,548 L400,512 M372,602 L432,582"/>
</g>
<g transform="translate(820,470) scale(0.20951)">
<path class="d" d="M880,545 L1000,480 L1040,555 L910,620 Z"/>
<path class="d" d="M1015,475 L1095,440 L1130,510 L1050,550 Z"/>
<path class="d" d="M1035,466 L1070,540 M1055,458 L1090,530 M1075,450 L1110,520"/>
<path class="l" d="M1095,440 L1135,410 M1130,510 L1160,480"/>
</g>
<g transform="translate(0,0) scale(1.00000)">
<path class="h" d="M395.2,541.4 L396.2,540.9 L397.4,540.3 L398.7,539.7 L400.2,539.0 L401.8,538.2 L403.4,537.4 L405.1,536.7 L406.8,535.9 L408.4,535.3 L410.0,534.7 L411.5,534.2 L412.8,533.8 L414.2,533.5 L415.6,533.1 L417.1,532.8 L418.5,532.6 L419.9,532.4 L421.3,532.2 L422.8,532.1 L424.2,532.0 L425.7,532.0 L427.1,532.0 L428.6,532.0 L430.2,532.1 L431.8,532.3 L433.5,532.5 L435.2,532.7 L437.0,533.0 L438.8,533.3 L440.6,533.7 L442.3,534.1 L444.1,534.6 L445.9,535.1 L447.6,535.6 L449.2,536.2 L450.8,536.9 L452.5,537.6 L454.1,538.3 L455.8,539.1 L457.4,540.0 L459.0,540.9 L460.6,541.9 L462.2,542.9 L463.8,543.9 L465.3,545.0 L466.7,546.1 L468.2,547.3 L469.5,548.5 L470.9,549.7 L472.1,551.0 L473.4,552.3 L474.6,553.7 L475.8,555.1 L477.0,556.5 L478.2,558.1 L479.3,559.7 L480.5,561.3 L481.6,563.0 L482.7,564.8 L483.8,566.5 L484.8,568.3 L485.8,570.3 L486.8,572.4 L487.9,574.6 L488.9,577.0 L489.9,579.4 L490.9,581.8 L491.9,584.3 L492.9,586.7 L494.0,589.0 L495.1,591.3 L496.2,593.5 L497.3,595.4 L498.3,597.1 L499.3,598.7 L500.3,600.1 L501.2,601.5 L502.2,602.8 L503.1,604.0 L504.0,605.2 L505.0,606.4 L505.9,607.7 L507.0,609.1 L508.0,610.6 L509.2,612.3 L510.4,614.2 L511.7,616.2 L513.1,618.3 L514.5,620.5 L516.0,622.8 L517.5,625.1 L519.2,627.5 L520.9,629.8 L522.7,632.2 L524.6,634.4 L526.5,636.6 L528.5,638.6 L530.4,640.5 L532.4,642.5 L534.5,644.4 L536.6,646.2 L538.8,648.0 L541.1,649.8 L543.4,651.6 L545.8,653.3 L548.3,654.9 L550.9,656.5 L553.6,658.0 L556.4,659.5 L559.3,660.9 L562.3,662.2 L565.4,663.5 L568.5,664.7 L571.6,665.8 L574.8,666.9 L577.9,667.9 L581.0,668.9 L584.1,669.8 L587.1,670.6 L590.0,671.3 L592.9,672.0 L595.7,672.6 L598.6,673.2 L601.4,673.7 L604.1,674.1 L606.9,674.4 L609.6,674.7 L612.4,675.0 L615.1,675.2 L617.8,675.3 L620.6,675.3 L623.4,675.3 L626.1,675.3 L628.9,675.2 L631.7,675.0 L634.5,674.8 L637.3,674.5 L640.1,674.1 L642.8,673.7 L645.6,673.2 L648.3,672.7 L651.1,672.2 L653.8,671.6 L656.5,670.9 L659.2,670.2 L661.8,669.5 L664.3,668.8 L666.8,668.0 L669.3,667.1 L671.7,666.3 L674.2,665.3 L676.8,664.3 L679.6,663.2 L682.5,662.1 L685.6,660.9 L689.0,659.5 L692.8,658.0 L696.8,656.4 L701.1,654.7 L705.6,652.9 L710.2,651.0 L714.9,649.0 L719.7,647.0 L724.6,645.0 L729.4,643.0 L734.1,641.0 L738.7,638.9 L743.2,637.0 L747.7,634.9 L752.3,632.8 L757.2,630.5 L762.0,628.2 L766.8,625.9 L771.5,623.6 L776.0,621.4 L780.2,619.4 L784.1,617.4 L787.6,615.8 L790.5,614.3 L792.9,613.2"/>
<path class="h" d="M388.8,527.2 L389.6,526.9 L390.7,526.4 L392.0,525.7 L393.5,525.0 L395.1,524.2 L396.9,523.4 L398.8,522.5 L400.7,521.7 L402.7,520.9 L404.8,520.1 L406.8,519.4 L408.8,518.8 L410.7,518.4 L412.4,518.0 L414.2,517.6 L416.1,517.3 L417.9,517.0 L419.7,516.8 L421.6,516.6 L423.5,516.5 L425.5,516.5 L427.4,516.5 L429.4,516.5 L431.4,516.7 L433.4,516.9 L435.4,517.1 L437.5,517.4 L439.6,517.7 L441.8,518.1 L443.9,518.6 L446.1,519.1 L448.2,519.6 L450.4,520.3 L452.6,521.0 L454.7,521.7 L456.8,522.5 L458.8,523.4 L460.8,524.4 L462.8,525.3 L464.8,526.4 L466.8,527.5 L468.8,528.7 L470.7,529.9 L472.6,531.2 L474.5,532.6 L476.3,534.0 L478.1,535.4 L479.9,536.9 L481.6,538.5 L483.2,540.1 L484.8,541.7 L486.3,543.4 L487.8,545.2 L489.2,547.0 L490.6,548.8 L492.0,550.7 L493.3,552.6 L494.6,554.6 L495.9,556.6 L497.2,558.7 L498.5,561.0 L499.7,563.4 L500.9,565.9 L502.0,568.4 L503.1,570.9 L504.2,573.4 L505.2,575.9 L506.2,578.3 L507.1,580.5 L508.1,582.6 L508.9,584.4 L509.8,586.1 L510.7,587.6 L511.5,589.0 L512.3,590.2 L513.0,591.3 L513.8,592.4 L514.6,593.5 L515.4,594.6 L516.3,595.8 L517.3,597.1 L518.4,598.5 L519.5,600.0 L520.8,601.8 L522.1,603.7 L523.4,605.7 L524.8,607.8 L526.1,609.9 L527.5,612.1 L528.9,614.3 L530.3,616.4 L531.8,618.5 L533.3,620.5 L534.8,622.5 L536.3,624.3 L537.9,626.0 L539.5,627.7 L541.3,629.5 L543.0,631.2 L544.9,632.8 L546.7,634.4 L548.6,636.0 L550.5,637.5 L552.5,639.0 L554.5,640.4 L556.6,641.8 L558.8,643.1 L561.0,644.4 L563.3,645.6 L565.8,646.8 L568.4,647.9 L571.1,649.1 L573.9,650.2 L576.8,651.2 L579.7,652.2 L582.6,653.1 L585.5,654.0 L588.3,654.8 L591.1,655.6 L593.8,656.3 L596.4,656.9 L598.9,657.4 L601.4,657.9 L603.9,658.4 L606.3,658.7 L608.7,659.1 L611.1,659.3 L613.5,659.5 L615.9,659.7 L618.4,659.8 L620.8,659.8 L623.2,659.9 L625.7,659.8 L628.1,659.7 L630.6,659.5 L633.0,659.3 L635.5,659.1 L637.9,658.8 L640.4,658.4 L642.9,658.0 L645.4,657.5 L647.9,657.0 L650.4,656.5 L652.9,655.9 L655.3,655.3 L657.5,654.6 L659.8,654.0 L661.9,653.3 L664.1,652.5 L666.4,651.7 L668.7,650.8 L671.2,649.9 L673.9,648.8 L676.8,647.7 L679.9,646.4 L683.4,645.1 L687.1,643.6 L691.0,642.0 L695.3,640.3 L699.7,638.5 L704.3,636.7 L709.0,634.7 L713.8,632.7 L718.5,630.7 L723.3,628.7 L727.9,626.7 L732.5,624.8 L736.8,622.8 L741.2,620.8 L745.8,618.7 L750.5,616.5 L755.3,614.2 L760.1,611.9 L764.7,609.7 L769.2,607.5 L773.4,605.4 L777.3,603.5 L780.8,601.8 L783.7,600.4 L786.1,599.2"/>
<path class="c" d="M392.0,534.3 L392.9,533.9 L394.0,533.4 L395.4,532.7 L396.8,532.0 L398.4,531.2 L400.1,530.4 L401.9,529.6 L403.7,528.8 L405.6,528.1 L407.4,527.4 L409.1,526.8 L410.8,526.3 L412.4,525.9 L414.0,525.5 L415.6,525.2 L417.3,524.9 L418.9,524.7 L420.5,524.5 L422.2,524.4 L423.9,524.3 L425.6,524.2 L427.3,524.2 L429.0,524.3 L430.8,524.4 L432.6,524.6 L434.5,524.8 L436.4,525.0 L438.3,525.3 L440.3,525.7 L442.2,526.1 L444.2,526.6 L446.2,527.1 L448.1,527.7 L450.1,528.3 L451.9,529.0 L453.8,529.7 L455.6,530.5 L457.5,531.3 L459.3,532.2 L461.1,533.2 L462.9,534.2 L464.7,535.3 L466.5,536.4 L468.2,537.6 L469.9,538.8 L471.5,540.0 L473.1,541.4 L474.7,542.7 L476.2,544.1 L477.7,545.5 L479.1,547.0 L480.5,548.6 L481.8,550.1 L483.1,551.8 L484.4,553.4 L485.7,555.2 L486.9,557.0 L488.1,558.8 L489.3,560.7 L490.5,562.6 L491.7,564.6 L492.8,566.8 L493.9,569.1 L495.0,571.5 L496.0,574.0 L497.0,576.4 L498.0,578.9 L499.0,581.3 L500.0,583.6 L501.0,585.8 L502.0,587.9 L503.0,589.8 L504.0,591.5 L504.9,593.1 L505.8,594.5 L506.6,595.7 L507.5,597.0 L508.4,598.1 L509.3,599.3 L510.2,600.5 L511.1,601.7 L512.1,603.1 L513.2,604.6 L514.4,606.2 L515.6,608.0 L516.9,609.9 L518.2,612.0 L519.6,614.1 L521.0,616.3 L522.4,618.5 L523.9,620.8 L525.5,623.0 L527.1,625.2 L528.7,627.3 L530.4,629.4 L532.2,631.3 L534.0,633.2 L535.9,635.0 L537.7,636.8 L539.7,638.6 L541.7,640.3 L543.7,642.0 L545.8,643.7 L548.0,645.3 L550.2,646.9 L552.5,648.4 L554.9,649.8 L557.3,651.2 L559.9,652.5 L562.6,653.8 L565.4,655.1 L568.2,656.3 L571.2,657.4 L574.2,658.5 L577.2,659.5 L580.3,660.5 L583.3,661.4 L586.2,662.3 L589.1,663.1 L591.9,663.8 L594.6,664.5 L597.3,665.0 L600.0,665.6 L602.6,666.0 L605.2,666.4 L607.8,666.8 L610.4,667.0 L613.0,667.3 L615.5,667.4 L618.1,667.5 L620.7,667.6 L623.3,667.6 L625.9,667.6 L628.5,667.4 L631.1,667.3 L633.8,667.0 L636.4,666.8 L639.0,666.4 L641.6,666.0 L644.2,665.6 L646.8,665.1 L649.5,664.6 L652.1,664.0 L654.7,663.4 L657.3,662.8 L659.7,662.1 L662.0,661.4 L664.4,660.6 L666.7,659.8 L669.1,659.0 L671.5,658.1 L674.0,657.1 L676.8,656.0 L679.7,654.9 L682.8,653.6 L686.2,652.3 L689.9,650.8 L693.9,649.2 L698.2,647.5 L702.6,645.7 L707.3,643.8 L712.0,641.9 L716.8,639.9 L721.6,637.9 L726.3,635.9 L731.0,633.8 L735.6,631.8 L740.0,629.9 L744.4,627.9 L749.1,625.8 L753.8,623.5 L758.7,621.2 L763.4,618.9 L768.1,616.6 L772.6,614.5 L776.8,612.4 L780.7,610.5 L784.2,608.8 L787.1,607.3 L789.5,606.2"/>
<path class="h" d="M639.9,573.2 L643.7,571.7 L648.8,569.7 L654.7,567.3 L661.4,564.7 L668.6,561.8 L676.2,558.8 L683.9,555.8 L691.6,552.7 L699.1,549.8 L706.1,547.0 L712.5,544.4 L718.0,542.2 L722.9,540.2 L727.5,538.2 L731.8,536.4 L735.8,534.6 L739.5,533.0 L742.9,531.4 L746.2,530.0 L749.3,528.7 L752.2,527.4 L755.0,526.4 L757.7,525.4 L760.4,524.5 L763.0,523.7 L765.5,523.1 L767.7,522.5 L769.7,522.0 L771.6,521.7 L773.4,521.4 L775.2,521.3 L776.9,521.1 L778.7,521.1 L780.6,521.1 L782.6,521.2 L784.7,521.3 L786.8,521.5 L789.0,521.9 L791.3,522.3 L793.7,522.8 L796.2,523.4 L798.7,524.0 L801.2,524.8 L803.7,525.5 L806.2,526.3 L808.6,527.1 L810.9,527.9 L813.2,528.6 L815.4,529.4 L817.6,530.1 L819.6,530.8 L821.5,531.5 L823.3,532.1 L825.1,532.8 L826.7,533.5 L828.3,534.3 L829.8,535.1 L831.3,535.9 L832.7,536.9 L834.1,537.9 L835.5,539.1 L836.9,540.4 L838.4,541.8 L839.8,543.4 L841.3,545.1 L842.7,546.9 L844.2,548.7 L845.6,550.6 L847.1,552.6 L848.6,554.6 L850.1,556.5 L851.5,558.4 L852.8,560.2 L854.0,562.0 L855.2,563.8 L856.4,565.6 L857.6,567.6 L858.8,569.5 L860.1,571.5 L861.4,573.6 L862.8,575.6 L864.2,577.7 L865.8,579.8 L867.4,581.8 L869.0,583.7 L870.6,585.6 L872.2,587.5 L873.9,589.5 L875.7,591.5 L877.5,593.4 L879.4,595.4 L881.4,597.3 L883.4,599.1 L885.6,600.9 L887.8,602.6 L890.1,604.3 L892.5,605.8 L894.9,607.1 L897.4,608.5 L899.9,609.7 L902.4,610.8 L905.0,611.9 L907.6,612.9 L910.3,613.9 L913.0,614.7 L915.6,615.5 L918.3,616.2 L921.0,616.9 L923.7,617.4 L926.6,617.9 L929.4,618.4 L932.3,618.7 L935.1,619.0 L938.0,619.2 L940.9,619.3 L943.7,619.4 L946.5,619.4 L949.3,619.4 L952.0,619.3 L954.7,619.1 L957.3,618.9 L959.9,618.6 L962.4,618.2 L965.0,617.8 L967.4,617.3 L969.8,616.7 L972.2,616.1 L974.6,615.5 L977.0,614.7 L979.3,614.0 L981.6,613.2 L984.0,612.4 L986.5,611.4 L989.2,610.2 L991.9,609.0 L994.5,607.7 L997.2,606.3 L999.7,605.0 L1002.2,603.7 L1004.5,602.5 L1006.5,601.3 L1008.4,600.3 L1009.9,599.5 L1011.1,598.9"/>
<path class="h" d="M634.1,558.8 L638.0,557.3 L643.1,555.3 L649.0,552.9 L655.7,550.3 L662.9,547.4 L670.5,544.4 L678.2,541.4 L685.9,538.3 L693.3,535.4 L700.3,532.6 L706.7,530.0 L712.2,527.8 L717.0,525.8 L721.4,524.0 L725.6,522.2 L729.5,520.4 L733.1,518.8 L736.6,517.2 L740.0,515.8 L743.2,514.4 L746.4,513.1 L749.5,511.8 L752.7,510.7 L755.8,509.7 L758.8,508.8 L761.5,508.1 L764.2,507.4 L766.7,506.9 L769.1,506.4 L771.5,506.1 L773.9,505.8 L776.2,505.7 L778.6,505.6 L781.0,505.6 L783.4,505.7 L785.9,505.9 L788.7,506.1 L791.5,506.6 L794.4,507.1 L797.2,507.7 L800.0,508.4 L802.8,509.1 L805.6,509.9 L808.3,510.7 L810.9,511.5 L813.4,512.4 L815.9,513.2 L818.2,514.0 L820.4,514.7 L822.5,515.4 L824.6,516.1 L826.8,516.9 L828.9,517.7 L831.0,518.5 L833.1,519.4 L835.2,520.4 L837.3,521.5 L839.5,522.8 L841.6,524.1 L843.7,525.7 L845.7,527.4 L847.7,529.2 L849.6,531.1 L851.4,533.1 L853.1,535.1 L854.8,537.2 L856.4,539.2 L858.0,541.3 L859.5,543.3 L861.0,545.3 L862.5,547.2 L863.9,549.2 L865.4,551.2 L866.8,553.3 L868.2,555.3 L869.5,557.4 L870.8,559.4 L872.0,561.3 L873.2,563.2 L874.4,565.1 L875.6,566.9 L876.8,568.6 L878.0,570.3 L879.4,572.0 L880.9,573.8 L882.4,575.6 L884.0,577.5 L885.5,579.3 L887.1,581.0 L888.7,582.7 L890.3,584.4 L892.0,586.0 L893.6,587.4 L895.3,588.8 L897.0,590.1 L898.7,591.3 L900.5,592.5 L902.4,593.6 L904.4,594.7 L906.5,595.7 L908.6,596.6 L910.8,597.5 L913.0,598.4 L915.2,599.2 L917.5,599.9 L919.8,600.6 L922.1,601.2 L924.4,601.7 L926.7,602.2 L929.1,602.6 L931.5,603.0 L933.9,603.3 L936.4,603.5 L938.9,603.7 L941.5,603.9 L944.0,603.9 L946.4,603.9 L948.9,603.9 L951.2,603.8 L953.5,603.7 L955.7,603.5 L957.9,603.2 L960.0,602.9 L962.1,602.6 L964.1,602.1 L966.2,601.7 L968.3,601.1 L970.3,600.6 L972.4,600.0 L974.4,599.3 L976.5,598.6 L978.6,597.8 L980.7,597.0 L982.9,596.1 L985.2,595.0 L987.6,593.8 L990.1,592.6 L992.5,591.3 L994.8,590.1 L997.0,588.8 L999.1,587.7 L1001.0,586.7 L1002.6,585.8 L1003.9,585.1"/>
<path class="c" d="M637.0,566.0 L640.9,564.5 L645.9,562.5 L651.9,560.1 L658.5,557.5 L665.8,554.6 L673.4,551.6 L681.1,548.6 L688.8,545.5 L696.2,542.6 L703.2,539.8 L709.6,537.2 L715.1,535.0 L720.0,533.0 L724.5,531.1 L728.7,529.3 L732.6,527.5 L736.3,525.9 L739.8,524.3 L743.1,522.9 L746.2,521.5 L749.3,520.3 L752.3,519.1 L755.2,518.0 L758.1,517.1 L760.9,516.3 L763.5,515.6 L765.9,515.0 L768.2,514.5 L770.4,514.1 L772.5,513.8 L774.5,513.5 L776.6,513.4 L778.6,513.4 L780.8,513.4 L783.0,513.5 L785.3,513.6 L787.7,513.8 L790.3,514.2 L792.8,514.7 L795.5,515.2 L798.1,515.9 L800.7,516.6 L803.4,517.3 L806.0,518.1 L808.5,518.9 L811.0,519.7 L813.4,520.5 L815.7,521.3 L817.9,522.0 L820.0,522.8 L822.1,523.5 L824.1,524.2 L826.1,524.9 L828.0,525.7 L829.9,526.5 L831.8,527.3 L833.6,528.3 L835.4,529.4 L837.1,530.5 L838.9,531.8 L840.6,533.2 L842.3,534.8 L844.0,536.5 L845.6,538.2 L847.2,540.1 L848.8,542.0 L850.3,544.0 L851.8,546.0 L853.3,548.0 L854.8,549.9 L856.3,551.9 L857.7,553.8 L859.1,555.7 L860.4,557.6 L861.7,559.5 L863.0,561.5 L864.2,563.5 L865.4,565.4 L866.6,567.4 L867.9,569.3 L869.2,571.3 L870.5,573.2 L871.9,575.0 L873.4,576.9 L874.9,578.7 L876.5,580.6 L878.1,582.5 L879.7,584.4 L881.4,586.2 L883.1,588.1 L884.9,589.9 L886.7,591.6 L888.5,593.3 L890.4,594.9 L892.4,596.4 L894.4,597.8 L896.5,599.1 L898.7,600.4 L900.9,601.6 L903.2,602.7 L905.5,603.7 L907.9,604.7 L910.3,605.7 L912.8,606.5 L915.2,607.3 L917.7,608.0 L920.2,608.7 L922.7,609.3 L925.2,609.8 L927.8,610.3 L930.4,610.7 L933.1,611.0 L935.8,611.3 L938.5,611.5 L941.2,611.6 L943.8,611.7 L946.5,611.7 L949.1,611.6 L951.6,611.5 L954.1,611.4 L956.5,611.2 L958.9,610.9 L961.2,610.6 L963.5,610.2 L965.8,609.7 L968.0,609.2 L970.3,608.6 L972.5,608.0 L974.7,607.4 L976.9,606.6 L979.1,605.9 L981.3,605.1 L983.6,604.2 L986.0,603.2 L988.5,602.0 L991.1,600.8 L993.6,599.5 L996.1,598.2 L998.5,596.9 L1000.7,595.6 L1002.8,594.5 L1004.7,593.5 L1006.2,592.7 L1007.5,592.0"/>
<path class="h" d="M485.3,297.7 L486.5,299.4 L487.9,301.5 L489.5,304.0 L491.4,306.8 L493.4,309.9 L495.6,313.1 L497.8,316.5 L500.1,319.9 L502.3,323.3 L504.6,326.7 L506.7,329.9 L508.8,332.9 L510.8,335.9 L512.9,339.0 L515.1,342.0 L517.2,345.1 L519.4,348.1 L521.5,351.1 L523.6,354.1 L525.5,356.9 L527.4,359.7 L529.1,362.3 L530.7,364.7 L532.1,366.9 L533.2,368.9 L534.3,370.7 L535.1,372.3 L535.8,373.8 L536.5,375.2 L537.1,376.5 L537.6,377.9 L538.2,379.3 L538.7,380.8 L539.4,382.4 L540.1,384.1 L540.9,386.0 L541.7,387.9 L542.5,389.9 L543.4,391.9 L544.2,393.9 L545.1,396.0 L545.9,398.0 L546.7,400.1 L547.6,402.2 L548.4,404.3 L549.2,406.4 L550.0,408.5 L550.7,410.6 L551.4,412.7 L552.1,414.8 L552.8,416.9 L553.5,419.1 L554.2,421.3 L554.9,423.5 L555.6,425.7 L556.2,427.8 L556.8,430.0 L557.4,432.1 L558.0,434.1 L558.5,436.1 L559.1,438.0 L559.6,439.8 L560.1,441.6 L560.5,443.4 L561.0,445.1 L561.4,446.7 L561.8,448.4 L562.1,449.9 L562.5,451.5 L562.8,453.1 L563.1,454.6 L563.4,456.2 L563.6,457.8 L563.8,459.2 L564.0,460.4 L564.1,461.6 L564.2,462.7 L564.3,463.8 L564.4,465.1 L564.5,466.6 L564.6,468.3 L564.6,470.2 L564.7,472.5 L564.8,475.1 L564.8,478.3 L564.8,482.1 L564.9,486.4 L564.9,491.0 L564.9,495.8 L564.8,500.7 L564.8,505.6 L564.8,510.2 L564.8,514.5 L564.8,518.3 L564.8,521.5 L564.8,524.0"/>
<path class="h" d="M498.3,289.1 L499.4,290.8 L500.8,293.0 L502.5,295.5 L504.3,298.3 L506.3,301.3 L508.5,304.6 L510.7,307.9 L513.0,311.3 L515.2,314.7 L517.5,318.1 L519.6,321.3 L521.6,324.3 L523.6,327.1 L525.6,330.1 L527.7,333.1 L529.9,336.2 L532.0,339.2 L534.2,342.2 L536.3,345.2 L538.3,348.2 L540.2,351.0 L542.1,353.8 L543.8,356.4 L545.3,358.9 L546.7,361.2 L547.9,363.3 L548.9,365.3 L549.8,367.1 L550.6,368.9 L551.3,370.5 L552.0,372.1 L552.6,373.6 L553.2,375.1 L553.8,376.7 L554.4,378.3 L555.1,380.0 L555.9,381.9 L556.8,383.8 L557.6,385.9 L558.5,388.0 L559.4,390.1 L560.3,392.2 L561.1,394.4 L562.0,396.6 L562.9,398.8 L563.7,401.0 L564.5,403.2 L565.3,405.4 L566.1,407.6 L566.8,409.9 L567.6,412.2 L568.3,414.4 L569.0,416.7 L569.7,419.0 L570.4,421.3 L571.1,423.5 L571.7,425.7 L572.3,427.8 L572.9,429.9 L573.5,431.9 L574.0,433.9 L574.5,435.8 L575.0,437.6 L575.5,439.4 L576.0,441.2 L576.4,443.0 L576.9,444.8 L577.3,446.6 L577.7,448.4 L578.0,450.1 L578.3,452.0 L578.6,453.8 L578.9,455.4 L579.1,456.9 L579.3,458.4 L579.5,459.8 L579.7,461.2 L579.8,462.7 L579.9,464.2 L580.0,465.9 L580.1,467.7 L580.1,469.8 L580.2,472.1 L580.2,474.9 L580.3,478.1 L580.3,482.0 L580.4,486.3 L580.4,491.0 L580.4,495.9 L580.3,500.8 L580.3,505.6 L580.3,510.3 L580.3,514.6 L580.3,518.4 L580.3,521.6 L580.2,524.0"/>
<path class="c" d="M491.8,293.4 L492.9,295.1 L494.3,297.2 L496.0,299.7 L497.9,302.6 L499.9,305.6 L502.0,308.9 L504.3,312.2 L506.5,315.6 L508.8,319.0 L511.0,322.4 L513.2,325.6 L515.2,328.6 L517.2,331.5 L519.3,334.5 L521.4,337.6 L523.6,340.6 L525.7,343.7 L527.8,346.7 L529.9,349.7 L531.9,352.6 L533.8,355.3 L535.6,358.0 L537.2,360.5 L538.7,362.9 L540.0,365.1 L541.1,367.0 L542.0,368.8 L542.8,370.5 L543.5,372.0 L544.2,373.5 L544.8,375.0 L545.4,376.5 L546.0,378.0 L546.6,379.5 L547.2,381.2 L548.0,383.0 L548.8,384.9 L549.6,386.9 L550.5,388.9 L551.4,390.9 L552.2,393.0 L553.1,395.1 L553.9,397.3 L554.8,399.4 L555.6,401.6 L556.4,403.7 L557.2,405.9 L558.0,408.0 L558.7,410.1 L559.5,412.3 L560.2,414.5 L560.9,416.8 L561.6,419.0 L562.3,421.2 L563.0,423.5 L563.6,425.7 L564.3,427.8 L564.9,429.9 L565.4,432.0 L566.0,434.0 L566.5,435.9 L567.0,437.8 L567.5,439.6 L568.0,441.4 L568.5,443.2 L568.9,444.9 L569.3,446.6 L569.7,448.3 L570.1,449.9 L570.4,451.6 L570.7,453.3 L571.0,455.0 L571.3,456.6 L571.5,458.1 L571.7,459.4 L571.8,460.7 L571.9,461.9 L572.1,463.2 L572.2,464.7 L572.2,466.2 L572.3,468.0 L572.4,470.0 L572.4,472.3 L572.5,475.0 L572.6,478.2 L572.6,482.1 L572.6,486.4 L572.6,491.0 L572.6,495.8 L572.6,500.8 L572.6,505.6 L572.6,510.2 L572.5,514.5 L572.5,518.3 L572.5,521.5 L572.5,524.0"/>
<path class="h" d="M515.3,299.2 L516.7,301.4 L518.5,304.2 L520.5,307.5 L522.8,311.3 L525.3,315.3 L528.0,319.6 L530.8,323.9 L533.5,328.4 L536.3,332.7 L539.0,337.0 L541.6,340.9 L543.9,344.6 L546.2,348.0 L548.5,351.4 L550.8,354.7 L553.1,357.9 L555.3,361.0 L557.5,364.1 L559.6,367.1 L561.7,370.0 L563.7,372.8 L565.6,375.5 L567.4,378.1 L569.1,380.6 L570.6,383.0 L572.1,385.2 L573.4,387.3 L574.7,389.3 L575.9,391.3 L577.0,393.1 L578.2,395.0 L579.3,396.8 L580.4,398.7 L581.5,400.6 L582.7,402.5 L583.9,404.5 L585.1,406.5 L586.3,408.5 L587.5,410.5 L588.7,412.6 L589.9,414.6 L591.1,416.6 L592.3,418.7 L593.5,420.7 L594.7,422.8 L595.9,424.8 L597.1,426.9 L598.3,429.0 L599.5,431.0 L600.7,433.1 L602.0,435.2 L603.2,437.3 L604.4,439.4 L605.6,441.6 L606.9,443.7 L608.2,445.9 L609.5,448.0 L610.8,450.2 L612.2,452.3 L613.6,454.3 L614.9,456.3 L616.3,458.3 L617.7,460.3 L619.1,462.3 L620.5,464.3 L622.0,466.3 L623.5,468.3 L625.0,470.2 L626.6,472.1 L628.2,474.0 L629.9,475.8 L631.6,477.6 L633.4,479.2 L635.2,480.8 L637.0,482.2 L638.8,483.6 L640.6,484.9 L642.4,486.1 L644.2,487.3 L646.0,488.4 L647.8,489.5 L649.5,490.6 L651.3,491.6 L653.1,492.7 L654.9,493.7 L656.6,494.7 L658.4,495.7 L660.1,496.6 L661.9,497.5 L663.6,498.4 L665.5,499.3 L667.3,500.2 L669.3,501.1 L671.3,502.0 L673.5,503.0 L675.8,504.1 L678.3,505.2 L681.1,506.4 L683.9,507.6 L686.8,508.8 L689.9,510.1 L692.9,511.4 L696.0,512.7 L699.1,514.0 L702.2,515.3 L705.2,516.6 L708.0,517.8 L710.8,519.1 L713.6,520.3 L716.4,521.6 L719.1,522.8 L721.9,524.1 L724.6,525.4 L727.3,526.6 L729.9,527.9 L732.4,529.1 L734.8,530.3 L737.1,531.5 L739.2,532.6 L741.1,533.7 L742.8,534.7 L744.4,535.8 L745.9,536.8 L747.3,537.8 L748.7,538.8 L749.9,539.8 L751.1,540.8 L752.3,541.8 L753.5,542.8 L754.6,543.9 L755.8,544.9 L756.9,545.9 L757.9,546.7 L758.9,547.6 L759.8,548.5 L760.7,549.4 L761.6,550.3 L762.5,551.2 L763.3,552.0 L764.0,552.8 L764.7,553.5 L765.3,554.2 L765.9,554.9 L766.4,555.4"/>
<path class="h" d="M528.5,291.0 L529.9,293.2 L531.6,296.0 L533.7,299.3 L536.0,303.1 L538.5,307.1 L541.2,311.3 L543.9,315.7 L546.7,320.1 L549.4,324.4 L552.0,328.6 L554.6,332.5 L556.9,336.0 L559.1,339.3 L561.3,342.6 L563.5,345.8 L565.7,349.0 L567.9,352.1 L570.1,355.1 L572.2,358.1 L574.3,361.0 L576.3,363.9 L578.3,366.7 L580.2,369.4 L581.9,372.0 L583.6,374.5 L585.1,376.8 L586.5,379.0 L587.8,381.1 L589.1,383.1 L590.3,385.1 L591.4,387.0 L592.6,388.9 L593.7,390.7 L594.8,392.6 L595.9,394.5 L597.1,396.5 L598.4,398.5 L599.6,400.6 L600.8,402.6 L602.0,404.7 L603.2,406.7 L604.4,408.8 L605.6,410.8 L606.8,412.9 L608.0,414.9 L609.2,416.9 L610.4,419.0 L611.7,421.0 L612.9,423.2 L614.2,425.3 L615.4,427.4 L616.6,429.5 L617.8,431.7 L619.0,433.8 L620.3,435.8 L621.5,437.9 L622.7,439.9 L623.9,441.9 L625.2,443.8 L626.4,445.7 L627.7,447.6 L629.1,449.5 L630.4,451.5 L631.7,453.4 L633.1,455.2 L634.4,457.1 L635.7,458.8 L637.1,460.5 L638.4,462.1 L639.7,463.7 L641.1,465.1 L642.4,466.4 L643.7,467.7 L645.1,468.9 L646.5,470.0 L648.0,471.1 L649.5,472.2 L651.0,473.2 L652.5,474.3 L654.2,475.3 L655.8,476.3 L657.5,477.3 L659.2,478.3 L660.9,479.3 L662.6,480.3 L664.2,481.2 L665.7,482.0 L667.3,482.9 L668.9,483.7 L670.5,484.5 L672.2,485.3 L673.9,486.1 L675.8,487.0 L677.8,487.9 L679.9,488.9 L682.2,489.9 L684.6,491.0 L687.2,492.2 L690.0,493.3 L692.9,494.6 L695.9,495.8 L698.9,497.1 L702.0,498.4 L705.2,499.7 L708.3,501.0 L711.3,502.3 L714.3,503.7 L717.2,504.9 L720.0,506.2 L722.8,507.5 L725.6,508.7 L728.4,510.0 L731.2,511.3 L733.9,512.6 L736.6,513.9 L739.3,515.2 L741.8,516.5 L744.3,517.8 L746.7,519.0 L748.9,520.3 L751.0,521.6 L753.0,522.9 L754.9,524.1 L756.6,525.4 L758.2,526.6 L759.7,527.8 L761.1,529.0 L762.4,530.1 L763.7,531.2 L764.8,532.2 L766.0,533.2 L767.1,534.1 L768.3,535.2 L769.5,536.3 L770.6,537.4 L771.7,538.4 L772.7,539.5 L773.7,540.5 L774.5,541.4 L775.3,542.2 L776.0,543.0 L776.7,543.7 L777.1,544.2 L777.6,544.6"/>
<path class="c" d="M521.9,295.1 L523.3,297.3 L525.0,300.1 L527.1,303.4 L529.4,307.2 L531.9,311.2 L534.6,315.5 L537.3,319.8 L540.1,324.2 L542.8,328.6 L545.5,332.8 L548.1,336.7 L550.4,340.3 L552.6,343.7 L554.9,347.0 L557.2,350.2 L559.4,353.4 L561.6,356.5 L563.8,359.6 L565.9,362.6 L568.0,365.5 L570.0,368.3 L571.9,371.1 L573.8,373.7 L575.5,376.3 L577.1,378.7 L578.6,381.0 L580.0,383.2 L581.3,385.2 L582.5,387.2 L583.7,389.1 L584.8,391.0 L585.9,392.8 L587.0,394.7 L588.1,396.6 L589.3,398.5 L590.5,400.5 L591.7,402.5 L592.9,404.6 L594.1,406.6 L595.4,408.6 L596.6,410.7 L597.8,412.7 L598.9,414.7 L600.1,416.8 L601.4,418.8 L602.6,420.9 L603.8,422.9 L605.0,425.0 L606.2,427.1 L607.4,429.2 L608.7,431.3 L609.9,433.4 L611.1,435.5 L612.3,437.7 L613.6,439.8 L614.8,441.9 L616.1,443.9 L617.4,446.0 L618.7,448.0 L620.0,450.0 L621.3,452.0 L622.7,453.9 L624.0,455.9 L625.4,457.9 L626.8,459.8 L628.2,461.7 L629.6,463.6 L631.0,465.4 L632.5,467.1 L634.0,468.8 L635.5,470.5 L637.0,472.0 L638.6,473.5 L640.1,474.8 L641.7,476.1 L643.4,477.4 L645.0,478.6 L646.7,479.7 L648.4,480.8 L650.1,481.9 L651.8,482.9 L653.5,483.9 L655.3,485.0 L657.0,486.0 L658.7,487.0 L660.4,488.0 L662.1,488.9 L663.7,489.7 L665.4,490.6 L667.1,491.4 L668.8,492.3 L670.6,493.1 L672.5,494.0 L674.6,495.0 L676.7,496.0 L679.0,497.0 L681.5,498.1 L684.1,499.3 L686.9,500.5 L689.9,501.7 L692.9,503.0 L695.9,504.2 L699.0,505.5 L702.1,506.9 L705.2,508.2 L708.2,509.5 L711.2,510.7 L714.0,512.0 L716.8,513.3 L719.6,514.5 L722.4,515.8 L725.1,517.1 L727.9,518.4 L730.6,519.6 L733.3,520.9 L735.9,522.1 L738.3,523.4 L740.7,524.6 L742.9,525.8 L745.0,527.0 L746.9,528.2 L748.7,529.3 L750.4,530.5 L752.0,531.6 L753.4,532.7 L754.8,533.8 L756.1,534.9 L757.4,536.0 L758.6,537.0 L759.7,538.0 L760.9,539.0 L762.0,540.0 L763.1,541.0 L764.2,542.0 L765.2,542.9 L766.2,543.9 L767.2,544.9 L768.1,545.8 L768.9,546.7 L769.7,547.5 L770.4,548.3 L771.0,548.9 L771.5,549.5 L772.0,550.0"/>
<path class="l" d="M483.6,285 V222 Q483.6,219.8 486,219.8 H497 Q499.7,219.8 499.7,222 V285"/>
<path class="l" d="M513.7,285 V222 Q513.7,219.8 516,219.8 H527 Q529.7,219.8 529.7,222 V285"/>
<path class="c" d="M491.6,216 V293 M521.7,216 V293"/>
<path class="l" d="M506.6,256 V325"/>
<path class="l" d="M480,293.3 H534"/>
<path d="M499.5,287 A9,9 0 1 0 485,303" fill="none" stroke="#444" stroke-width="2.2"/>
<path d="M529.5,287 A9,9 0 1 0 515,303" fill="none" stroke="#444" stroke-width="2.2"/>
</g>
<g transform="translate(1000,50) scale(0.13947)">
<path class="g" d="M495,150 L625,150 L625,235 L495,235 Z"/>
<path class="d" d="M540,235 L545,295 L605,295 L610,235 M575,180 V290"/>
<path class="t" d="M555,110 V150"/>
<path class="hf" fill="url(#hy7170)" d="M440,270 L465,240 L540,240 L540,300 L550,490 L590,780 L470,780 L455,500 Z"/>
<path class="hf" fill="url(#hy7170)" d="M615,300 L620,490 L650,770 L790,770 L790,700 L700,470 L640,250 L615,240 Z"/>
<path class="l" d="M545,300 L545,490 L585,490 L600,780 M620,300 L620,490 L640,780"/>
<path class="l" d="M640,240 Q640,220 670,220 Q700,220 700,250 L700,380 M660,230 L680,380"/>
<path class="hf" fill="url(#hx7170)" d="M700,255 L775,255 L780,380 L700,380 Z"/>
<path class="hf" fill="url(#hx7170)" d="M370,300 L430,300 L440,420 L370,420 Z"/>
<path class="hf" fill="url(#hx7170)" d="M340,440 L450,440 L450,480 L340,480 Z"/>
<path class="d" d="M690,390 L830,390 L830,420 L690,420 Z"/>
<path class="hf" fill="url(#hx7170)" d="M410,480 L460,480 L470,690 L420,690 Z"/>
<path class="hf" fill="url(#hx7170)" d="M730,440 L780,440 L790,640 L740,640 Z"/>
<path class="g" d="M280,500 Q300,480 330,480 L410,490 L400,540 L340,610 L300,590 L280,540 Z"/>
<path class="g" d="M790,430 L900,420 Q920,450 920,490 L880,540 L820,500 L790,470 Z"/>
<path class="d" d="M350,570 L410,570 L420,680 L350,680 Z"/>
<path class="d" d="M800,540 L860,540 L880,630 L800,640 Z"/>
<path class="hf" fill="url(#hx7170)" d="M190,670 Q195,650 220,648 L320,640 L340,826 L350,937 L360,1017 L240,1017 L215,947 L190,847 Z"/>
<path class="hf" fill="url(#hx7170)" d="M890,570 L1000,560 Q1025,575 1030,600 L1060,826 L1065,907 L1040,932 L930,932 L920,857 L900,826 Z"/>
<path class="hf" fill="url(#hx7170)" d="M335,700 L460,690 L470,932 L350,942 Z"/>
<path class="hf" fill="url(#hx7170)" d="M790,650 L900,640 L910,867 L800,897 Z"/>
<path d="M470,770 L620,770 L620,812 L470,812 Z" fill="#fcf6fc" stroke="#6a746e" stroke-width="1" vector-effect="non-scaling-stroke"/>
<path class="k" d="M395,795 L465,795 L465,826 L395,826 Z M790,755 L860,755 L860,785 L790,785 Z"/>
<path class="t" d="M1060,740 L1110,735"/>
</g>
<g transform="translate(1000,150) scale(0.13947)">
<path class="hf" fill="url(#hy7170)" d="M470,95 L470,175 L640,185 L800,140 L790,53 L650,53 L650,95 Z"/>
<path class="k" d="M395,80 L465,80 L465,105 L395,105 Z M600,110 L660,110 L660,130 L600,130 Z M880,140 L935,140 L935,165 L880,165 Z"/>
<path class="d" d="M470,225 L830,185 L850,385 L480,430 Z"/>
<path class="g" d="M360,240 L380,300 L470,360 L480,430 L370,440 L340,400 L350,330 Z"/>
<path class="g" d="M850,300 L920,250 L970,280 L980,340 L950,375 L850,385 Z"/>
<path class="d" d="M450,440 L520,826 M885,390 L910,826"/>
<path class="hf" fill="url(#hx7170)" d="M400,525 L465,525 L520,826 L530,914 L550,974 L440,984 L430,826 L380,620 Z"/>
<path class="hf" fill="url(#hx7170)" d="M895,465 L1015,460 L1020,590 L1055,690 L1040,826 L1055,914 L1000,919 L910,914 Z"/>
<path class="c" d="M640,200 L710,826"/>
<path class="t" d="M160,125 L190,120"/>
</g>
<g transform="translate(1000,230) scale(0.13947)">
<path class="d" d="M520,252 L530,340 L910,300 L908,252"/>
<path class="l" d="M560,340 L565,395 M880,305 L885,355"/>
<path class="d" d="M450,410 Q448,400 460,400 L1000,350 Q1008,352 1006,368 L1003,385 L462,450 Q452,440 450,410"/>
<path class="d" d="M485,450 L500,590 Q510,630 540,640 L600,630 L640,612 L705,600 M790,600 L900,595 L990,565 Q1000,540 995,500 L980,395"/>
<path class="l" d="M545,555 L585,555 L590,625 L548,630 Z M910,525 L958,518 L965,585 L915,595 Z"/>
<path class="l" d="M705,545 L790,540 L792,600 L708,605 Z"/>
<circle class="l" cx="750" cy="590" r="22"/>
<path class="l" d="M610,440 L635,610 M855,410 L880,590"/>
<path class="d" d="M595,640 L610,690 Q625,715 650,720 L880,695 Q910,685 915,660 L920,600"/>
<path class="l" d="M610,680 L900,650"/>
<path class="c" d="M700,30 L770,740"/>
</g>
<g transform="translate(120,130) scale(0.20951)">
<path class="l" d="M130,222 Q200,290 215,345 Q240,455 215,570 Q200,610 160,635"/>
<path class="l" d="M130,222 Q90,300 110,380 Q135,455 112,520 Q105,580 160,635"/>
<path class="c" d="M75,455 L845,455"/>
<path class="hf" fill="url(#hx4773)" d="M215,345 L375,345 L385,362 L385,385 L215,385 Z"/>
<path class="hf" fill="url(#hx4773)" d="M215,528 L385,528 L385,552 L375,568 L215,568 Z"/>
<path class="d" d="M215,345 L375,345 M215,568 L375,568"/>
<path class="hf" fill="url(#hy4773)" d="M265,390 L470,390 L470,420 L265,420 Z"/>
<path class="hf" fill="url(#hy4773)" d="M265,495 L470,495 L470,525 L265,525 Z"/>
<path class="d" d="M265,390 L265,525 M265,420 L440,420 M265,495 L440,495"/>
<path class="l" d="M235,385 L235,528"/>
<path class="hf" fill="url(#hx4773)" d="M392,372 Q400,330 475,315 Q550,330 560,372 L500,372 L500,388 L455,388 L455,372 Z"/>
<path class="hf" fill="url(#hx4773)" d="M392,545 Q400,580 475,592 Q550,580 560,545 L500,545 L500,528 L455,528 L455,545 Z"/>
<path class="hf" fill="url(#hx4773)" d="M578,372 Q590,330 660,315 Q735,330 750,372 L690,372 L690,388 L640,388 L640,372 Z"/>
<path class="hf" fill="url(#hx4773)" d="M578,545 Q590,580 660,592 Q735,580 750,545 L690,545 L690,528 L640,528 L640,545 Z"/>
<path class="hf" fill="url(#hy4773)" d="M500,390 L640,390 L640,420 L500,420 Z"/>
<path class="hf" fill="url(#hy4773)" d="M500,495 L640,495 L640,525 L500,525 Z"/>
<path class="hf" fill="url(#hy4773)" d="M690,390 L740,390 L740,525 L690,525 L690,495 L720,495 L720,420 L690,420 Z"/>
<circle class="l" cx="460" cy="455" r="20"/>
<circle class="l" cx="650" cy="455" r="20"/>
<path class="l" d="M455,372 L455,545 M500,372 L500,545 M640,372 L640,545 M690,372 L690,545"/>
<path class="t" d="M475,300 V610 M660,300 V610"/>
<path class="l" d="M740,390 Q760,455 740,525"/>
<path class="k" d="M372,362 L398,362 L398,385 L372,385 Z M558,362 L582,362 L582,385 L558,385 Z M745,362 L768,362 L768,385 L745,385 Z M372,530 L398,530 L398,555 L372,555 Z M558,530 L582,530 L582,555 L558,555 Z M745,530 L768,530 L768,555 L745,555 Z"/>
<path class="d" d="M755,365 L755,548 M768,365 L768,548"/>
<path class="d" d="M775,350 Q775,340 790,340 L815,340 Q828,342 828,355 L828,555 Q828,568 815,568 L790,568 Q775,568 775,558 Z"/>
<path class="l" d="M775,398 L828,398 M775,512 L828,512"/>
</g>
<g transform="translate(0,0) scale(1.00000)">
<text x="1064" y="20.5" font-size="19.5">Р-Р</text>
<text x="580.5" y="116.5" font-size="21">И</text>
<text x="211.5" y="164" font-size="19.5">П-П</text>
<text x="966" y="62.4">44</text>
<text x="966" y="101.6">73</text>
<text x="966" y="131">77</text>
<text x="973" y="167.2">У</text>
<text x="964.5" y="204.3">41</text>
<text x="966" y="225.3">43</text>
<text x="966" y="249.5">33</text>
<text x="966" y="280.3">52</text>
<text x="1212" y="47">40</text>
<text x="1214" y="85">39</text>
<text x="1212" y="160.3">42</text>
<text x="1215" y="272">78</text>
<text x="1391" y="326.2">76</text>
<text x="1390" y="358.7">33</text>
<text x="1390" y="399">52</text>
<text x="670" y="170.4" font-size="16.5">10</text>
<text x="732.5" y="170.4" font-size="16.5">9</text>
<text x="256" y="302.7" font-size="16.5">91</text>
<text x="310" y="302.7" font-size="16.5">26</text>
<text x="443" y="789">25</text>
<text x="494" y="789">14</text>
<text x="586" y="789">26</text>
<text x="587" y="808.3">91</text>
<text x="618.5" y="789">25</text>
<text x="672" y="789">76</text>
<text x="714" y="789">11</text>
<text x="944" y="789">14</text>
<text x="994" y="789">25</text>
<text x="1137" y="789">45</text>
<text x="1139.5" y="808.3">91</text>
<path class="ld" d="M966,65.4 H988 L1069,73.7"/>
<path class="d" d="M966,105.4 H988 L1052,96.4"/>
<path class="ld" d="M966,133.5 H988 L1040,118.4"/>
<path class="ld" d="M969,171 H987 L1027,151 M987,171 L1029,182.5"/>
<path class="ld" d="M965,207 H987 L1049,194"/>
<path class="ld" d="M966,228 H987 L1047,206.6"/>
<path class="ld" d="M966,252.7 H988 L1084.7,227.5"/>
<path class="ld" d="M966,282.6 H988 L1076,300"/>
<path class="ld" d="M1234,49.6 H1212 L1110.8,100.6"/>
<path class="ld" d="M1236,87 H1214 L1127.6,118.8"/>
<path class="ld" d="M1234,163.6 H1214 L1137,195"/>
<path class="ld" d="M1236,275 H1216 L1104.6,312.4"/>
<path class="ld" d="M1415,329.3 H1389 L1236.7,491.3"/>
<path class="ld" d="M1415,361.8 H1388.6 L1249,574"/>
<path class="ld" d="M1415,402.5 H1388.6 L1265,586.7"/>
<path class="ld" d="M687,172.4 H671.4 L551,385"/>
<path class="ld" d="M741.7,172.4 H726.6 L612,357"/>
<path class="ld" d="M272,304.3 H248 L200.7,244.2 M248,304.3 L239.4,244.2 M248,304.3 L277.1,244.2"/>
<path class="ld" d="M328,304.3 H306.7 L289.7,243.1"/>
<path class="ld" d="M465,792 H442 L339,560"/>
<path class="ld" d="M516.7,792 H494.8 L414,590"/>
<path class="ld" d="M607.8,791 H584.4 L564.7,590"/>
<path class="ld" d="M584.4,791 V811 H607.8 V791"/>
<path class="ld" d="M643.5,792 H617.8 L584.6,600"/>
<path class="ld" d="M693.7,792 H671.8 L610,570"/>
<path class="ld" d="M735.8,792 H714.3 L676,670 M714.3,792 L697,630"/>
<path class="ld" d="M964.8,792 H944.7 L870,600"/>
<path class="ld" d="M994,792 H1017.5 L1058,565"/>
<path class="ld" d="M1161.6,791.5 H1137.3 L1075,565"/>
<path class="ld" d="M1137.3,791.5 V810.8 H1161.6 V791.5"/>
<g font-size="14.5" class="ang">
<text x="420" y="563.6" textLength="19" lengthAdjust="spacingAndGlyphs">30°</text>
<text x="600" y="512" textLength="19.5" lengthAdjust="spacingAndGlyphs">65°</text>
<text x="633.8" y="540.7" textLength="19.5" lengthAdjust="spacingAndGlyphs">30°</text>
<text x="716.7" y="607" textLength="15" lengthAdjust="spacingAndGlyphs">15°</text>
<text x="930.9" y="645.2" textLength="18" lengthAdjust="spacingAndGlyphs">20°</text>
</g>
<text x="796.5" y="540.4" font-size="16.5" textLength="9" lengthAdjust="spacingAndGlyphs">П</text>
<text x="785" y="741.3" font-size="16.5" textLength="9.5" lengthAdjust="spacingAndGlyphs">Р</text>
<path class="ld" d="M419,565.3 H436 M402.5,536.4 V568.9 M402.5,553.1 L419.2,565.3"/>
<path class="ld" d="M600,513.8 H617 L613.5,528"/>
<path class="ld" d="M633,541.7 H652"/>
<path class="ld" d="M716,608.6 H731"/>
<path class="ld" d="M930,646 H949.5 L962,601"/>
<path class="l" d="M777.7,723.5 L800.8,721.4"/>
<path class="k" d="M793,720.2 L801,721.4 L793.3,723.6 Z"/>
<path d="M800.8,708.9 L802.9,725.6" stroke="#444" stroke-width="2.2" fill="none"/>
<path d="M819.4,537.1 L822.8,555.5" stroke="#444" stroke-width="2.2" fill="none"/>
<path class="l" d="M810,546.5 L819.5,544.5"/>
</g>
</svg>
</body></html>
